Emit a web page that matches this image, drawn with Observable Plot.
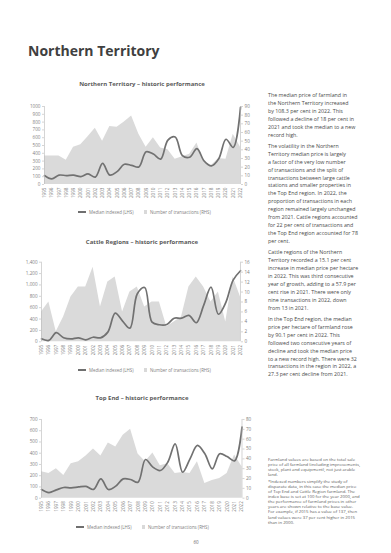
<!DOCTYPE html>
<html><head><meta charset="utf-8">
<script src="https://cdn.jsdelivr.net/npm/d3@7"></script>
<script src="https://cdn.jsdelivr.net/npm/@observablehq/plot@0.6"></script>
<style>
body{margin:0;background:#fff;}
#page{position:relative;width:391px;height:553px;overflow:hidden;font-family:"Open Sans",sans-serif;color:#444;background:#fff;}
.abs{position:absolute;}
.h1{left:28px;top:41px;font-size:14px;font-weight:700;color:#404040;line-height:20px;white-space:nowrap;}
.ctitle{left:42px;width:200px;text-align:center;font-size:6px;font-weight:700;color:#5a5a5a;line-height:8px;white-space:nowrap;}
.legend{display:flex;align-items:center;font-size:4.4px;color:#808080;line-height:6px;white-space:nowrap;}
.sw-line{display:inline-block;width:8px;height:1.8px;background:#6f6f6f;margin-right:3px;}
.sw-box{display:inline-block;width:3.5px;height:3.5px;background:#d9d9d9;margin-left:10px;margin-right:3px;}
.col{left:268px;width:120px;font-size:5.3px;line-height:7.9px;color:#4a4a4a;white-space:nowrap;}
.col p{margin:0 0 3.5px 0;}
.foot{left:268px;width:120px;font-size:4.3px;line-height:5.1px;color:#5a5a5a;white-space:nowrap;}
.foot p{margin:0 0 1.5px 0;}
.chart{left:20px;}
</style></head><body><div id="page">
<div class="abs h1">Northern Territory</div>
<div class="abs ctitle" style="top:80px">Northern Territory – historic performance</div>
<div class="abs chart" id="c1" style="top:100px"></div>
<div class="abs legend" style="left:78px;top:209px"><span class="sw-line"></span>Median indexed (LHS)<span class="sw-box"></span>Number of transactions (RHS)</div>
<div class="abs ctitle" style="top:238px">Cattle Regions – historic performance</div>
<div class="abs chart" id="c2" style="top:256px"></div>
<div class="abs legend" style="left:78px;top:367px"><span class="sw-line"></span>Median indexed (LHS)<span class="sw-box"></span>Number of transactions (RHS)</div>
<div class="abs ctitle" style="top:394px">Top End – historic performance</div>
<div class="abs chart" id="c3" style="top:413px"></div>
<div class="abs legend" style="left:76px;top:524px"><span class="sw-line"></span>Median indexed (LHS)<span class="sw-box"></span>Number of transactions (RHS)</div>
<div class="abs" style="left:176px;width:40px;text-align:center;top:539px;font-size:4.5px;color:#666;line-height:6px">60</div>

<div class="abs col" style="top:92px">
<p>The median price of farmland in<br>the Northern Territory increased<br>by 108.3 per cent in 2022. This<br>followed a decline of 18 per cent in<br>2021 and took the median to a new<br>record high.</p>
<p>The volatility in the Northern<br>Territory median price is largely<br>a factor of the very low number<br>of transactions and the split of<br>transactions between large cattle<br>stations and smaller properties in<br>the Top End region. In 2022, the<br>proportion of transactions in each<br>region remained largely unchanged<br>from 2021. Cattle regions accounted<br>for 22 per cent of transactions and<br>the Top End region accounted for 78<br>per cent.</p>
<p>Cattle regions of the Northern<br>Territory recorded a 15.1 per cent<br>increase in median price per hectare<br>in 2022. This was third consecutive<br>year of growth, adding to a 57.9 per<br>cent rise in 2021. There were only<br>nine transactions in 2022, down<br>from 13 in 2021.</p>
<p>In the Top End region, the median<br>price per hectare of farmland rose<br>by 90.1 per cent in 2022. This<br>followed two consecutive years of<br>decline and took the median price<br>to a new record high. There were 32<br>transactions in the region in 2022, a<br>27.3 per cent decline from 2021.</p>
</div>
<div class="abs foot" style="top:457px">
<p>Farmland values are based on the total sale<br>price of all farmland (including improvements,<br>stock, plant and equipment), not just arable<br>land.</p>
<p>*Indexed numbers simplify the study of<br>disparate data, in this case the median price<br>of Top End and Cattle Region farmland. The<br>index base is set at 100 for the year 2000, and<br>the performance of farmland prices in other<br>years are shown relative to the base value.<br>For example, if 2015 has a value of 137, then<br>land values were 37 per cent higher in 2015<br>than in 2000.</p>
</div>
</div>
<script>
const years = [1995,1996,1997,1998,1999,2000,2001,2002,2003,2004,2005,2006,2007,2008,2009,2010,2011,2012,2013,2014,2015,2016,2017,2018,2019,2020,2021,2022];

// Northern Territory
const ntMedian = [115,72,120,115,120,100,135,95,270,120,165,260,245,225,420,390,325,570,610,370,350,460,300,240,330,580,475,990];
const ntTransactions = [33,33,33,28,43,46,55,65,50,67,66,72,79,58,43,54,42,40,29,32,35,48,25,22,30,29,58,43];
const ntLeftTicks = [0,100,200,300,400,500,600,700,800,900,1000];
const ntRightTicks = [0,10,20,30,40,50,60,70,80,90];

// Cattle Regions
const cattleMedian = [53,25,160,70,50,70,35,80,70,170,505,365,240,845,955,345,300,305,415,415,465,335,640,960,485,690,1085,1250];
const cattleTransactions = [6,8,2,5,9,11,11,15,7,12,13,6,10,11,7,8,8,3,4,5,11,13,11,8,10,4,13,9];
const cattleLeftTicks = [0,200,400,600,800,1000,1200,1400];
const cattleRightTicks = [0,2,4,6,8,10,12,14,16];

// Top End
const topEndMedian = [77,50,74,95,92,100,105,78,172,77,107,172,166,142,344,276,246,320,484,231,350,469,395,261,395,370,332,632];
const topEndTransactions = [27,25,30,23,35,37,43,50,43,56,52,64,70,45,37,46,33,35,25,26,25,37,15,18,20,25,44,32];
const topEndLeftTicks = [0,100,200,300,400,500,600,700];
const topEndRightTicks = [0,10,20,30,40,50,60,70,80];

function drawChart(id, o) {
  const leftMax = o.leftTicks[o.leftTicks.length - 1];
  const rightMax = o.rightTicks[o.rightTicks.length - 1];
  const k = leftMax / rightMax;
  const data = years.map((y, i) => ({year: y, median: o.median[i], tx: o.tx[i]}));
  const axisColor = "#b8b8b8";
  const p = Plot.plot({
    width: 240,
    height: o.mt + o.ph + o.mb,
    marginTop: o.mt, marginBottom: o.mb, marginLeft: o.ml, marginRight: o.mr,
    style: {fontFamily: "'Open Sans', sans-serif", fontSize: "4.6px", color: "#808080", background: "transparent", overflow: "visible"},
    x: {domain: [1995, 2022], label: null},
    y: {domain: [0, leftMax], label: null},
    marks: [
      Plot.areaY(data, {x: "year", y: d => d.tx * k, fill: "#dadada"}),
      Plot.lineY(data, {x: "year", y: "median", stroke: "#717171", strokeWidth: 1.7, curve: "catmull-rom"}),
      Plot.ruleX([1995], {stroke: axisColor, strokeWidth: 0.6}),
      Plot.ruleX([2022], {stroke: axisColor, strokeWidth: 0.6}),
      Plot.axisY(o.leftTicks, {anchor: "left", tickSize: 2, tickPadding: 2, stroke: axisColor, fill: "#808080", strokeWidth: 0.6, tickFormat: o.leftFormat, label: null}),
      Plot.axisY(o.rightTicks.map(v => v * k), {anchor: "right", tickSize: 2, tickPadding: 2, stroke: axisColor, fill: "#808080", strokeWidth: 0.6, tickFormat: d => String(Math.round(d / k)), label: null}),
      Plot.axisX(years, {anchor: "bottom", tickRotate: -90, tickSize: 0, tickPadding: 3, fill: "#808080", tickFormat: d => String(d), label: null})
    ]
  });
  document.getElementById(id).appendChild(p);
}

drawChart("c1", {median: ntMedian, tx: ntTransactions, leftTicks: ntLeftTicks, rightTicks: ntRightTicks, leftFormat: d => String(d), mt: 6, ph: 78, mb: 18, ml: 24, mr: 20});
drawChart("c2", {median: cattleMedian, tx: cattleTransactions, leftTicks: cattleLeftTicks, rightTicks: cattleRightTicks, leftFormat: d => d3.format(",")(d), mt: 5.7, ph: 79.6, mb: 18, ml: 21, mr: 20});
drawChart("c3", {median: topEndMedian, tx: topEndTransactions, leftTicks: topEndLeftTicks, rightTicks: topEndRightTicks, leftFormat: d => String(d), mt: 6, ph: 78.7, mb: 18, ml: 21, mr: 18.5});
</script>
</body></html>
